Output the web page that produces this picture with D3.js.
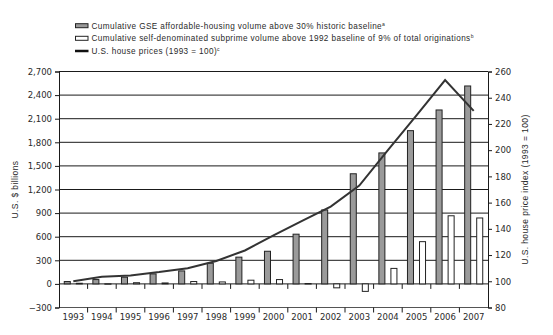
<!DOCTYPE html>
<html><head><meta charset="utf-8">
<script src="https://cdn.jsdelivr.net/npm/d3@7"></script>
<style>
html,body{margin:0;padding:0;background:#fff;}
svg{display:block;}
text{font-family:"Liberation Sans",Arial,sans-serif;fill:#2a2a2a;}
.tick text{font-family:"DejaVu Sans",sans-serif;font-size:8.5px;fill:#2a2a2a;}
.lbl{letter-spacing:0.4px;}
</style></head>
<body><svg id="c" width="553" height="335"></svg>
<script>
const years = ["1993","1994","1995","1996","1997","1998","1999","2000","2001","2002","2003","2004","2005","2006","2007"];
const gseVolume = [30, 55, 85, 127, 165, 263, 340, 415, 632, 940, 1400, 1665, 1948, 2211, 2516];
const subprimeVolume = [8, 2, 15, 12, 30, 25, 47, 55, 5, -50, -95, 197, 537, 866, 838];
const housePrice = [100, 103.5, 104.5, 107, 110, 115.5, 123.5, 135, 146, 157, 173, 200, 226.5, 253.5, 230];
const leftTicks = [-300, 0, 300, 600, 900, 1200, 1500, 1800, 2100, 2400, 2700];
const rightTicks = [80, 100, 120, 140, 160, 180, 200, 220, 240, 260];
const legendLabels = [
  ["Cumulative GSE affordable-housing volume above 30% historic baseline", "a"],
  ["Cumulative self-denominated subprime volume above 1992 baseline of 9% of total originations", "b"],
  ["U.S. house prices (1993 = 100)", "c"]
];
const leftTitle = "U.S. $ billions";
const rightTitle = "U.S. house price index (1993 = 100)";

const svg = d3.select("#c");
const L = 59, R = 488, T = 71.5, B = 307.5;
const x = d3.scaleBand().domain(years).range([L, R]).padding(0);
const inner = d3.scaleBand().domain(["gse","sub"]).range([0, x.bandwidth()]).paddingInner(0.417).paddingOuter(0.396);
const yL = d3.scaleLinear().domain([-300, 2700]).range([B, T]);
const yR = d3.scaleLinear().domain([80, 260]).range([B, T]);

// gridlines
svg.append("g").selectAll("line").data(leftTicks).join("line")
  .attr("x1", L).attr("x2", R)
  .attr("y1", d => yL(d)).attr("y2", d => yL(d))
  .attr("stroke", d => d === -300 ? "#555" : "#1a1a1a").attr("stroke-width", 1);

// left axis
const gl = svg.append("g").attr("transform", `translate(${L},0)`)
  .call(d3.axisLeft(yL).tickValues(leftTicks).tickFormat(d3.format(",")).tickSize(4).tickPadding(3));
gl.select(".domain").attr("stroke", "#1a1a1a");
gl.selectAll(".tick line").attr("stroke", "#1a1a1a");

// right axis
const gr = svg.append("g").attr("transform", `translate(${R},0)`)
  .call(d3.axisRight(yR).tickValues(rightTicks).tickSize(4).tickPadding(3));
gr.select(".domain").attr("stroke", "#1a1a1a");
gr.selectAll(".tick line").attr("stroke", "#1a1a1a");

// x labels
const gx = svg.append("g").attr("transform", `translate(0,${B})`)
  .call(d3.axisBottom(x).tickSize(0).tickPadding(6));
gx.select(".domain").remove();

// x category boundary ticks at zero line and bottom line
const bounds = years.slice(1).map(y => x(y));
[yL(0), B].forEach(yy => {
  svg.append("g").selectAll("line").data(bounds).join("line")
    .attr("x1", d => d).attr("x2", d => d)
    .attr("y1", yy).attr("y2", yy + 5)
    .attr("stroke", "#1a1a1a").attr("stroke-width", 1);
});

// bars
function drawBars(vals, key, fill) {
  svg.append("g").selectAll("rect").data(vals).join("rect")
    .attr("x", (d, i) => x(years[i]) + inner(key) + 0.5)
    .attr("width", inner.bandwidth() - 1)
    .attr("y", d => yL(Math.max(0, d)))
    .attr("height", d => Math.max(0.5, Math.abs(yL(d) - yL(0))))
    .attr("fill", fill).attr("stroke", "#222").attr("stroke-width", 1);
}
drawBars(gseVolume, "gse", "#9a9a9a");
drawBars(subprimeVolume, "sub", "#ffffff");

// house price line
const line = d3.line()
  .x((d, i) => x(years[i]) + x.bandwidth() / 2)
  .y(d => yR(d));
svg.append("path").datum(housePrice)
  .attr("d", line).attr("fill", "none")
  .attr("stroke", "#333").attr("stroke-width", 2).attr("stroke-linejoin", "miter");

// axis titles
svg.append("text").attr("class", "lbl").attr("transform", `translate(18,${(T + B) / 2}) rotate(-90)`)
  .attr("text-anchor", "middle").attr("font-size", 8.5).text(leftTitle);
svg.append("text").attr("class", "lbl").attr("transform", `translate(528,${(T + B) / 2}) rotate(-90)`)
  .attr("text-anchor", "middle").attr("font-size", 8.5).text(rightTitle);

// legend
const lg = svg.append("g");
const rowY = [25.7, 38.3, 51];
legendLabels.forEach((lab, i) => {
  const yy = rowY[i];
  if (i < 2) {
    lg.append("rect").attr("x", 75.5).attr("y", yy - 2).attr("width", 12.5).attr("height", 4)
      .attr("fill", i === 0 ? "#9a9a9a" : "#fff").attr("stroke", "#222").attr("stroke-width", 1);
  } else {
    lg.append("line").attr("x1", 75).attr("x2", 88.5).attr("y1", yy).attr("y2", yy)
      .attr("stroke", "#111").attr("stroke-width", 2.5);
  }
  const t = lg.append("text").attr("class", "lbl").attr("x", 91.5).attr("y", yy + 3).attr("font-size", 8.2);
  t.append("tspan").text(lab[0]);
  t.append("tspan").attr("font-size", 5).attr("dy", -3).text(lab[1]);
});
</script></body></html>
